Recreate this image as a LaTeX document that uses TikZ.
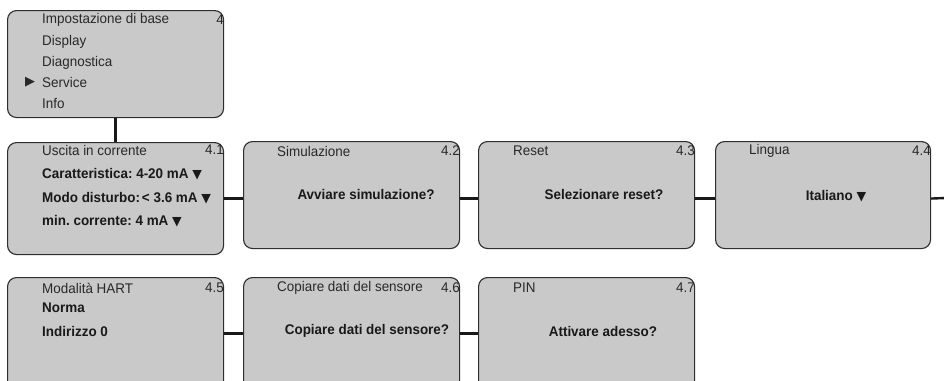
\documentclass[tikz,border=0pt]{standalone}
\usepackage{fontspec}
\setmainfont[FakeStretch=0.96]{Liberation Sans}
\newfontfamily\symfont{DejaVu Sans}
\frenchspacing
\definecolor{boxgray}{RGB}{201,201,201}
\definecolor{edge}{RGB}{45,45,45}
\definecolor{txt}{RGB}{40,40,40}
\newcommand{\dn}{{\symfont\fontsize{12.5}{12.5}\selectfont ▼}}
\newcommand{\rt}{{\symfont\fontsize{13}{13}\selectfont ▶}}
\tikzset{
  box/.style={draw=edge, line width=1.1pt, fill=boxgray, rounded corners=9pt,
    minimum width=216pt, anchor=north west, inner sep=0pt},
  link/.style={line width=2.4pt, draw=black!90},
  head/.style={anchor=west, inner sep=0pt, text=txt, font=\fontsize{14}{14}\selectfont},
  strong/.style={anchor=west, inner sep=0pt, text=black!90, font=\fontsize{14}{14}\selectfont\bfseries},
  mid/.style={anchor=center, inner sep=0pt, text=black!90, font=\fontsize{14}{14}\selectfont\bfseries},
  num/.style={anchor=east, inner sep=0pt, text=txt, font=\fontsize{14}{14}\selectfont}
}
\begin{document}
\begin{tikzpicture}[x=1pt, y=-1pt]
\useasboundingbox (0,0) rectangle (944,380);
\clip (0,0) rectangle (944,380);
% boxes
\node[box, minimum height=107pt] (b4) at (7,10) {};
\node[box, minimum height=112pt] (b41) at (7,142) {};
\node[box, minimum height=107pt] (b42) at (243,141) {};
\node[box, minimum height=107pt] (b43) at (478,141) {};
\node[box, minimum height=107pt, minimum width=215pt] (b44) at (715,141) {};
\node[box, minimum height=112pt] (b45) at (7,277) {};
\node[box, minimum height=112pt] (b46) at (243,277) {};
\node[box, minimum height=112pt] (b47) at (478,277) {};
\coordinate (out) at (946,198);
% connectors
\draw[link] (b4.south) -- (b41.north);
\draw[link] (b41.east) -- (b42.west |- b41.east);
\draw[link] (b42.east |- b41.east) -- (b43.west |- b41.east);
\draw[link] (b43.east |- b41.east) -- (b44.west |- b41.east);
\draw[link] (b44.east |- b41.east) -- (out);
\draw[link] (b45.east) -- (b46.west);
\draw[link] (b46.east) -- (b47.west);
% top box text
\node[head] (t1) at (42,19.5) {Impostazione di base};
\node[num] (n4) at (224,19.5) {4};
\node[head] (t2) at (42,41.5) {Display};
\node[head] (t3) at (42,62.5) {Diagnostica};
\node[head] (t4) at (42,82.5) {Service};
\node[head] (ar) at (25,82) {\rt};
\node[head] (t5) at (42,103.5) {Info};
% 4.1
\node[head] (h41) at (42,150) {Uscita in corrente};
\node[num] (n41) at (224,150) {4.1};
\node[strong] (c1) at (42,174) {Caratteristica: 4-20 mA \dn};
\node[strong] (c2) at (42,198) {Modo disturbo:\kern2pt< 3.6 mA \dn};
\node[strong] (c3) at (42,221) {min. corrente: 4 mA \dn};
% 4.2
\node[head] (h42) at (277,151) {Simulazione};
\node[num] (n42) at (460,151) {4.2};
\node[mid] (m42) at (366,194) {Avviare simulazione?};
% 4.3
\node[head] (h43) at (513,151) {Reset};
\node[num] (n43) at (695,151) {4.3};
\node[mid] (m43) at (604,194) {Selezionare reset?};
% 4.4
\node[head] (h44) at (749,151) {Lingua};
\node[num] (n44) at (931,151) {4.4};
\node[mid] (m44) at (836,196) {Italiano \dn};
% 4.5
\node[head] (h45) at (42,288) {Modalità HART};
\node[num] (n45) at (224,288) {4.5};
\node[strong] (d1) at (42,308) {Norma};
\node[strong] (d2) at (42,331) {Indirizzo 0};
% 4.6
\node[head] (h46) at (277,288) {Copiare dati del sensore};
\node[num] (n46) at (460,288) {4.6};
\node[mid] (m46) at (367,331) {Copiare dati del sensore?};
% 4.7
\node[head] (h47) at (513,288) {PIN};
\node[num] (n47) at (695,288) {4.7};
\node[mid] (m47) at (603,331) {Attivare adesso?};
\end{tikzpicture}
\end{document}
